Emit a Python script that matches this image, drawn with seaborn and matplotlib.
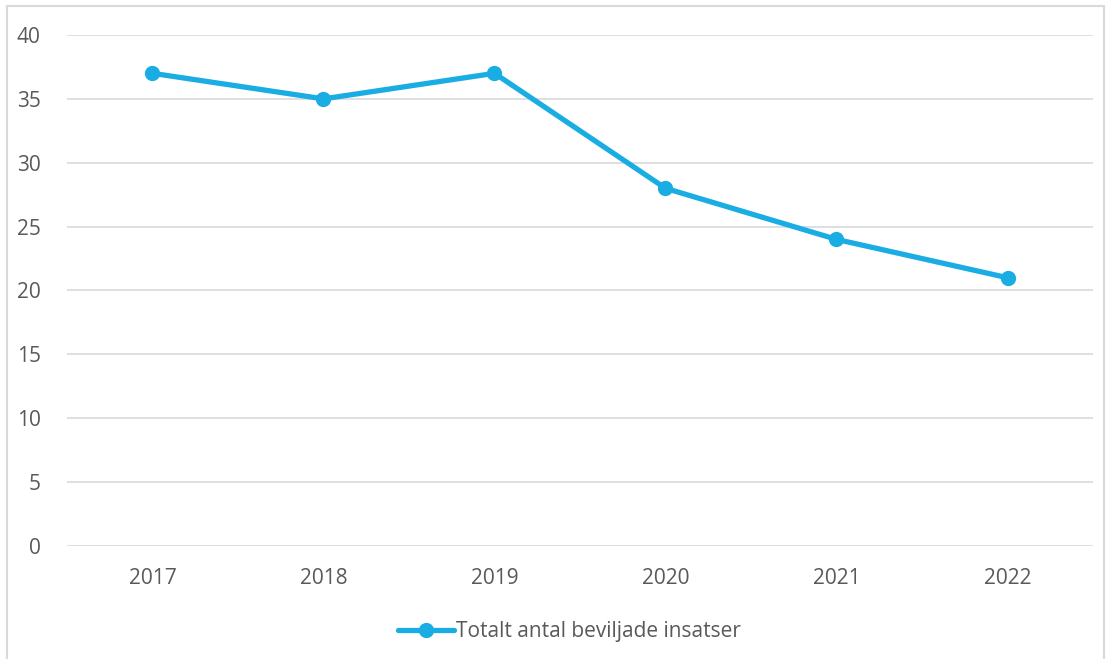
import numpy as np
import pandas as pd
import seaborn as sns
import matplotlib.pyplot as plt
from matplotlib.patches import Rectangle

# ---------------- Data ----------------
years = ["2017", "2018", "2019", "2020", "2021", "2022"]
insatser = [37, 35, 37, 28, 24, 21]
series_name = "Totalt antal beviljade insatser"

df = pd.DataFrame({"year": years, "value": insatser})

# ---------------- Style ----------------
sns.set_style("white")
plt.rcParams["font.family"] = ["Open Sans", "DejaVu Sans"]
text_col = "#595959"
line_col = "#1AADE4"

fig = plt.figure(figsize=(11.11, 6.59), dpi=100)
ax = fig.add_axes([0.0603, 0.1715, 0.9235, 0.7754])

sns.lineplot(data=df, x="year", y="value", ax=ax, color=line_col,
             linewidth=3.8, marker="o", markersize=11, markeredgewidth=0,
             label=series_name, sort=False)

ax.set_ylim(0, 40)
ax.set_yticks(np.arange(0, 41, 5))
ax.set_xlim(-0.5, len(years) - 0.5)
ax.grid(axis="y", color="#d9d9d9", linewidth=1.2)
ax.set_axisbelow(True)
for s in ax.spines.values():
    s.set_visible(False)
ax.set_xlabel("")
ax.set_ylabel("")
ax.tick_params(axis="both", length=0, labelsize=15, labelcolor=text_col)
ax.tick_params(axis="y", pad=19)
ax.tick_params(axis="x", pad=16)

leg = ax.legend(loc="upper center", bbox_to_anchor=(0.49, -0.11), frameon=False,
                fontsize=15, handlelength=2.7, handletextpad=0.1)
for t in leg.get_texts():
    t.set_color(text_col)

# chart border (Excel-like frame)
fig.patches.append(Rectangle((7 / 1111, -0.05), 1097 / 1111, 1 - 6 / 659 + 0.05,
                             transform=fig.transFigure, fill=False,
                             edgecolor="#d9d9d9", linewidth=1.5))

fig.savefig("out.png", dpi=100)
